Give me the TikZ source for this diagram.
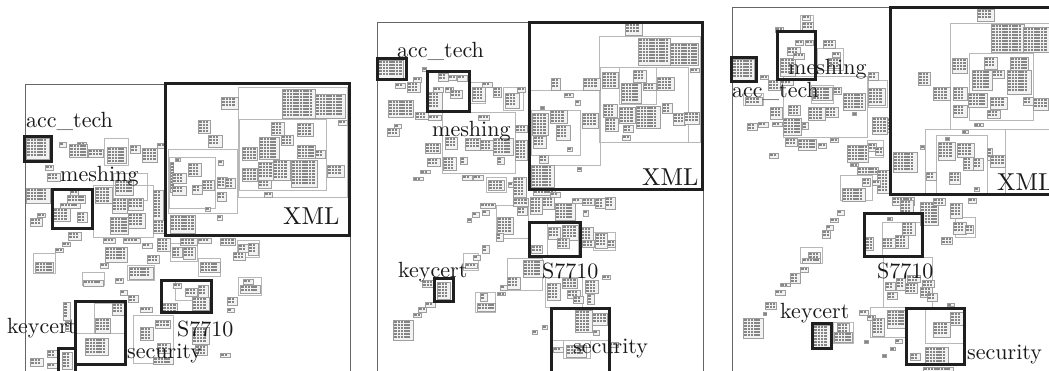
\documentclass[tikz,border=0pt]{standalone}
\usepackage{fontspec}
\setmainfont{Latin Modern Roman}
\newfontfamily\lblfont{lmroman10-regular.otf}
\tikzset{
  frame/.style={draw=black!60, line width=0.9},
  grp/.style={draw=black!28, line width=0.7},
  pkbox/.style={draw=black!38, fill=black!5, line width=0.8},
  pkdot/.style={fill=black!48},
  hot/.style={draw=black!88, line width=3},
  lbl/.style={anchor=base west, inner sep=0, text=black!90, font=\lblfont\fontsize{22}{22}\selectfont},
  biglbl/.style={anchor=base west, inner sep=0, text=black!90, font=\lblfont\fontsize{24.5}{25}\selectfont}
}
% a package: outlined box filled with a grid of small class cells
\newcommand\pkgbox[4]{%
  \draw[pkbox] (#1,#2) rectangle ++(#3,#4);
  \pgfmathtruncatemacro\pkc{max(1,(#3-1.0)/3.3)}%
  \pgfmathtruncatemacro\pkr{max(1,(#4-1.0)/3.0)}%
  \foreach \i in {1,...,\pkc}{\foreach \j in {1,...,\pkr}{%
    \fill[pkdot] ({#1+1.2+(\i-1)*3.3},{#2+1.2+(\j-1)*3.0}) rectangle ++(2.6,2.2);}}%
}
\begin{document}
\begin{tikzpicture}[x=1pt,y=-1pt]
\path[use as bounding box] (0,0) rectangle (1049,371);
\clip (0,0) rectangle (1049,371);
\fill[white] (0,0) rectangle (1049,371);

% ---------- panel frames ----------
\draw[frame] (25,84) rectangle (350,390);
\draw[frame] (377,22) rectangle (703,390);
\draw[frame] (732,7) rectangle (1070,390);

% ---------- grouping rectangles ----------
\foreach \a/\b/\c/\d in {
  238/87/347/197, 239/119/326/190, 168/149/237/213, 169/157/215/208,
  104/138/128/165, 93/185/153/237, 113/173/147/200, 33/253/55/273,
  82/272/104/285, 127/265/154/280, 170/243/197/261, 198/258/220/276,
  237/240/259/257, 238/277/261/295, 94/303/125/333, 76/333/125/364,
  133/315/173/363, 160/280/212/313, 175/280/212/300,
  % panel 2
  599/36/700/142, 600/67/688/142, 619/67/656/104, 530/90/600/165,
  531/110/580/155, 470/82/485/103, 503/87/523/110, 442/112/515/173,
  486/177/506/192, 496/205/528/238, 463/253/478/270, 593/232/615/250,
  507/258/542/290, 545/277/582/307, 475/292/495/312, 547/223/578/257,
  563/340/590/358, 552/308/609/340,
  % panel 3
  950/23/1049/129, 969/53/1033/120, 925/129/1005/193, 936/135/987/193,
  800/15/813/32, 817/48/843/70, 811/85/833/103, 868/80/887/107,
  743/93/763/105, 783/76/867/137, 867/140/883/157, 840/175/872/200,
  800/247/822/263, 955/217/975/237, 882/222/923/257, 883/257/932/307,
  833/322/853/343, 870/307/905/337, 925/307/965/343}
  \draw[grp] (\a,\b) rectangle (\c,\d);

% ---------- packages, first layout ----------
\foreach \x/\y/\w/\h in {
  221/97/17/12, 282/89/33/29, 315/94/30/24, 198/120/12/13, 208/135/14/12,
  259/137/20/22, 271/122/13/13, 297/123/16/13, 281/135/12/10, 297/145/18/13,
  315/150/10/8, 242/147/15/13, 242/168/15/13, 258/162/15/18, 273/160/17/20,
  291/160/26/27, 258/180/13/8, 327/165/17/12, 338/120/9/5, 264/192/8/5,
  170/162/3/30, 172/173/14/10, 172/186/14/9, 188/163/13/13, 192/185/10/9,
  202/180/12/10, 217/177/10/11, 225/178/10/10, 217/192/9/9, 218/160/5/5,
  205/207/5/4, 170/215/25/18, 217/215/5/5, 175/158/5/3,
  26/138/23/21, 59/142/7/5, 77/142/9/5, 69/144/18/13, 88/149/15/8,
  107/147/19/16, 130/145/10/8, 142/148/15/14, 157/143/8/5, 45/165/8/5,
  47/173/13/8, 26/188/24/15, 37/213/8/4, 30/218/12/8,
  53/208/17/13, 67/195/18/8, 60/203/20/5, 77/212/10/10, 70/190/8/5,
  115/180/18/15, 95/187/17/16, 112/198/15/15, 128/198/15/12, 128/213/17/15,
  110/217/18/17, 153/190/10/30, 153/220/12/13, 68/232/13/8, 62/242/8/4,
  55/248/8/4, 35/262/18/10, 83/280/20/6, 100/263/8/5, 105/247/22/15,
  129/267/24/12, 103/238/12/5, 123/238/17/5, 142/243/10/5, 147/255/12/8,
  157/238/13/13, 172/247/10/10, 183/247/12/12, 180/238/17/7, 198/238/13/5,
  200/262/20/10, 220/238/15/7, 238/244/10/8, 248/243/10/12, 233/252/12/8,
  115/278/8/5, 120/290/7/5, 128/295/10/7, 140/307/12/5, 227/297/10/8,
  227/308/7/4, 243/279/10/5, 240/285/20/8,
  95/318/15/15, 112/303/12/12, 85/338/23/17, 63/302/7/18, 65/321/5/10,
  140/327/13/13, 155/320/15/8, 157/343/13/10, 153/357/20/7, 192/327/17/17,
  195/345/12/10, 220/353/10/4, 30/358/13/8, 47/350/10/7, 47/363/10/5,
  62/352/10/17, 162/303/15/10, 185/288/12/8, 198/285/10/12, 192/297/17/13,
  173/283/8/5}
  \pkgbox{\x}{\y}{\w}{\h};

% ---------- packages, second layout ----------
\foreach \x/\y/\w/\h in {
  625/23/17/12, 638/38/32/27, 670/43/28/22, 690/68/9/4, 602/72/16/16,
  633/70/13/12, 657/77/17/13, 621/83/20/20, 643/83/13/7, 603/104/14/13,
  619/107/16/16, 636/106/24/22, 662/103/10/10, 673/113/12/12, 684/112/15/12,
  605/118/13/13, 623/125/10/7, 622/135/8/5,
  532/113/16/22, 550/110/17/13, 533/136/13/12, 556/125/14/15, 582/113/16/15,
  540/106/4/3, 567/147/5/4, 539/155/9/8, 577/167/4/4, 551/78/9/12,
  583/78/17/12, 564/93/9/4, 575/100/5/5, 531/165/23/22,
  378/60/25/18, 422/67/4/4, 413/77/8/5, 395/83/10/5, 407/82/13/10,
  438/73/10/8, 448/75/8/5, 457/75/10/6, 433/87/10/5, 445/87/8/5,
  450/90/12/8, 428/92/14/18, 472/87/13/14, 482/82/10/5, 493/87/8/10,
  505/93/14/15, 517/87/8/5, 388/100/25/17, 415/112/13/7, 428/115/13/5,
  394/124/7/4, 387/128/12/8, 445/137/12/12, 443/157/13/13, 425/143/15/10,
  427/158/13/8, 465/138/15/12, 480/140/13/10, 493/138/20/17, 478/115/11/5,
  460/157/7/7, 497/157/7/7, 515/140/12/20, 515/125/12/7, 420/170/10/3,
  413/177/10/3, 462/175/10/5, 473/175/10/5, 488/180/16/10, 513/177/13/20,
  508/182/5/5, 513/198/15/8, 480/203/15/5, 472/212/7/5, 482/210/7/5,
  467/218/4/4, 497/217/16/17, 517/207/10/8, 496/233/7/8, 482/245/7/8,
  473/255/7/5, 465/263/12/5,
  530/197/12/17, 542/197/12/12, 555/203/20/17, 572/198/10/5, 582/198/12/7,
  595/198/10/10, 605/197/10/12, 583/210/5/6, 533/190/22/5, 550/192/10/5,
  531/245/11/8, 548/227/12/12, 562/225/16/15, 557/238/12/10, 580/227/13/13,
  582/240/12/7, 595/233/12/15, 607/240/8/7, 602/275/8/4,
  523/260/20/17, 507/277/13/12, 500/285/7/5, 497/292/8/3, 547/283/13/17,
  562/278/15/10, 567/290/13/8, 585/280/13/13, 587/294/7/10, 573/296/10/7,
  437/282/13/17, 422/280/13/7, 425/302/10/5, 418/307/8/5, 413/313/8/4,
  393/320/20/20, 480/293/7/8, 477/303/18/8, 532/330/5/4, 542/325/5/4,
  575/310/17/22, 592/313/15/12, 593/330/6/5, 566/345/20/12, 553/347/10/5,
  608/342/10/5}
  \pkgbox{\x}{\y}{\w}{\h};

% ---------- packages, third layout ----------
\foreach \x/\y/\w/\h in {
  977/9/17/12, 991/24/33/28, 1023/27/26/25, 952/58/15/15, 984/57/13/12,
  1010/57/18/14, 972/70/20/20, 992/70/12/8, 1007/70/24/24, 953/87/14/13,
  968/93/19/14, 990/97/17/12, 1023/97/10/8, 1033/98/15/12, 953/105/14/12,
  987/110/13/8, 974/123/9/3,
  938/142/17/18, 957/143/17/14, 963/157/10/13, 949/172/11/12, 973/158/10/12,
  987/148/5/12, 990/155/15/12, 974/187/5/4, 945/137/4/3, 926/172/10/8,
  920/145/4/4, 893/152/24/20, 918/72/12/13, 933/87/17/13, 962/130/6/3,
  732/59/22/21, 802/15/8/5, 802/22/11/9, 775/27/8/5, 823/40/12/8,
  832/52/8/5, 828/58/12/10, 780/58/15/18, 787/47/13/8, 795/40/8/5,
  805/40/8/5, 793/53/11/6, 760/75/8/4, 768/80/12/10, 780/80/13/5,
  812/87/20/13, 833/87/8/7, 843/93/22/17, 868/88/17/17, 868/72/10/8,
  745/97/17/8, 770/107/12/12, 788/105/12/10, 808/107/17/13, 825/107/13/10,
  783/118/18/17, 802/122/6/7, 852/112/4/3, 747/123/10/7, 758/122/10/5,
  772/122/10/4, 872/117/15/17, 887/118/4/14, 785/138/12/8, 798/139/18/11,
  818/143/8/5, 830/138/8/4, 769/153/9/5, 847/145/21/17, 868/143/8/8,
  875/147/8/8, 850/163/8/3, 857/167/21/7, 877/170/12/23, 842/188/23/13,
  862/178/8/8, 872/180/8/5, 837/210/7/5, 830/218/8/4, 826/225/7/5,
  822/230/8/8, 808/252/12/7, 802/258/18/5, 800/267/8/5, 790/273/10/10,
  780/283/10/3, 775/290/10/5, 765/302/11/7, 763/312/3/3, 743/318/20/20,
  892/197/22/8, 900/200/13/13, 920/202/18/23, 933/198/12/7, 950/203/12/15,
  953/222/13/12, 965/225/8/8, 968/198/8/5, 941/237/11/7,
  902/222/13/13, 895/235/13/13, 882/238/13/10, 865/237/8/13, 887/217/5/3,
  885/282/10/8, 896/278/9/12, 905/283/12/10, 920/287/12/10, 922/280/12/7,
  927/293/10/8, 887/292/10/7, 907/275/13/7,
  813/325/17/22, 837/323/12/10, 834/332/18/10, 859/310/9/5, 867/315/8/5,
  872/318/12/18, 887/310/18/18, 864/340/4/3, 895/339/7/4, 890/347/5/3,
  882/354/4/3, 933/322/17/15, 950/312/13/13, 925/347/23/18, 910/353/10/7,
  923/367/30/4, 947/303/7/3}
  \pkgbox{\x}{\y}{\w}{\h};

% ---------- highlighted packages ----------
\draw[hot] (165,84) rectangle (349,236);
\draw[hot] (24,137) rectangle (51,162);
\draw[hot] (52,190) rectangle (92,229);
\draw[hot] (161,281) rectangle (211,312);
\draw[hot] (75,301) rectangle (125,364);
\draw[hot] (58,348) rectangle (75,380);

\draw[hot] (529,23) rectangle (702,190);
\draw[hot] (377,59) rectangle (406,80);
\draw[hot] (427,72) rectangle (469,112);
\draw[hot] (529,223) rectangle (580,257);
\draw[hot] (434,279) rectangle (453,301);
\draw[hot] (551,308) rectangle (609,380);

\draw[hot] (890,8) rectangle (1060,195);
\draw[hot] (731,58) rectangle (756,82);
\draw[hot] (777,32) rectangle (815,80);
\draw[hot] (864,214) rectangle (922,257);
\draw[hot] (812,323) rectangle (831,348);
\draw[hot] (906,308) rectangle (964,364);

% ---------- labels ----------
\node[lbl] (l1acc) at (26,128) {acc\_tech};
\node[lbl] (l1mesh) at (60,182) {meshing};
\node[biglbl] (l1xml) at (283,225) {XML};
\node[lbl] (l1s) at (177,336) {S7710};
\node[lbl] (l1key) at (7,333) {keycert};
\node[lbl] (l1sec) at (127,358) {security};

\node[lbl] (l2acc) at (397,58) {acc\_tech};
\node[lbl] (l2mesh) at (432,137) {meshing};
\node[biglbl] (l2xml) at (642,186) {XML};
\node[lbl] (l2s) at (542,279) {S7710};
\node[lbl] (l2key) at (398,277) {keycert};
\node[lbl] (l2sec) at (573,353) {security};

\node[lbl] (l3acc) at (732,98) {acc\_tech};
\node[lbl] (l3mesh) at (788,75) {meshing};
\node[biglbl] (l3xml) at (997,191) {XML};
\node[lbl] (l3s) at (877,279) {S7710};
\node[lbl] (l3key) at (780,318) {keycert};
\node[lbl] (l3sec) at (967,359) {security};
\end{tikzpicture}
\end{document}
